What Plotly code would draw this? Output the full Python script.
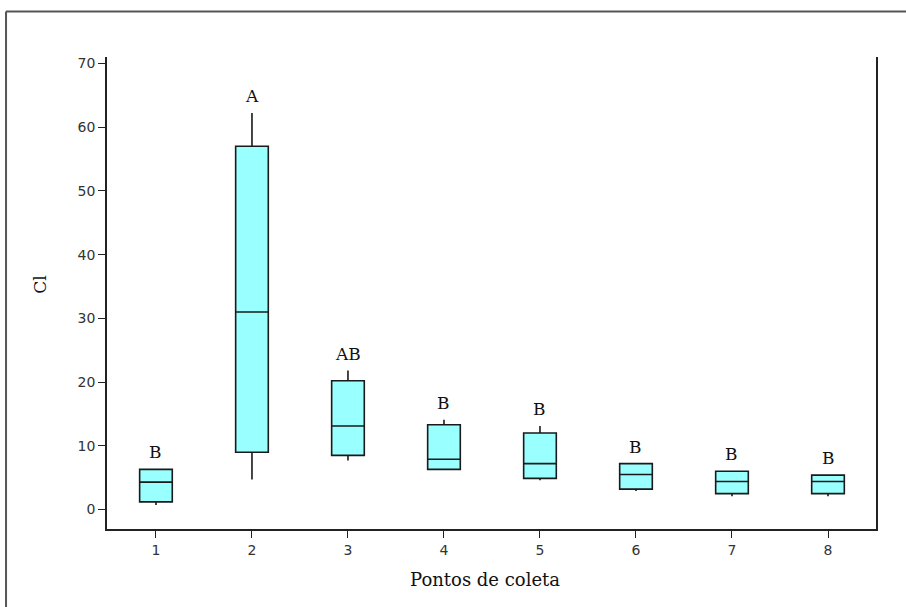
import plotly.graph_objects as go

# Sampling points and five-number summaries of Cl per point
pontos = [1, 2, 3, 4, 5, 6, 7, 8]
cl_min = [0.7, 4.7, 7.7, 6.2, 4.6, 2.9, 2.1, 2.1]
cl_q1 = [1.2, 9.0, 8.5, 6.3, 4.9, 3.2, 2.5, 2.5]
cl_median = [4.3, 31.0, 13.1, 7.9, 7.2, 5.5, 4.4, 4.4]
cl_q3 = [6.3, 57.0, 20.2, 13.3, 12.0, 7.2, 6.0, 5.4]
cl_max = [6.3, 62.2, 21.8, 14.1, 13.1, 7.2, 6.0, 5.4]
grupos = ["B", "A", "AB", "B", "B", "B", "B", "B"]

yticks = [0, 10, 20, 30, 40, 50, 60, 70]

serif = "DejaVu Serif"
sans = "DejaVu Sans"

fig = go.Figure()
fig.add_trace(go.Box(
    x=pontos,
    q1=cl_q1,
    median=cl_median,
    q3=cl_q3,
    lowerfence=cl_min,
    upperfence=cl_max,
    width=0.34,
    whiskerwidth=0,
    fillcolor="#99ffff",
    line=dict(color="#1a1a1a", width=1.6),
    boxpoints=False,
    hoverinfo="skip",
    showlegend=False,
))

# Group letters above each whisker
for p, top, g in zip(pontos, cl_max, grupos):
    fig.add_annotation(
        x=p, y=top, text=g, showarrow=False,
        xref="x", yref="y", yanchor="middle", yshift=17,
        font=dict(family=serif, size=17, color="#111111"),
    )

# Axis titles
fig.add_annotation(
    x=-0.087, y=0.5175, xref="paper", yref="paper", text="Cl",
    showarrow=False, textangle=-90, xanchor="center", yanchor="middle",
    font=dict(family=serif, size=17, color="#111111"),
)
fig.add_annotation(
    x=0.4915, y=-0.107, xref="paper", yref="paper", text="Pontos de coleta",
    showarrow=False, xanchor="center", yanchor="middle",
    font=dict(family=serif, size=18, color="#111111"),
)

# Outer frame (top and left edges)
frame = dict(color="#555555", width=2)
fig.add_shape(type="line", xref="paper", yref="paper",
              x0=-0.1313, y0=1.0963, x1=1.05, y1=1.0963, line=frame)
fig.add_shape(type="line", xref="paper", yref="paper",
              x0=-0.1313, y0=1.0963, x1=-0.1313, y1=-0.2, line=frame)

fig.update_layout(
    width=906, height=607,
    margin=dict(l=107, r=30, t=57, b=77.5),
    paper_bgcolor="white",
    plot_bgcolor="white",
    xaxis=dict(
        range=[0.49, 8.5],
        tickmode="array", tickvals=pontos, ticktext=[str(p) for p in pontos],
        showgrid=False, zeroline=False,
        showline=True, linecolor="#222222", linewidth=1.6, mirror=False,
        ticks="outside", ticklen=7, tickwidth=1.3, tickcolor="#222222",
        tickfont=dict(family=sans, size=14, color="#333333"),
    ),
    yaxis=dict(
        range=[-3.05, 71.0],
        tickmode="array", tickvals=yticks, ticktext=[str(v) for v in yticks],
        showgrid=False, zeroline=False,
        showline=True, linecolor="#222222", linewidth=1.6, mirror=True,
        ticks="outside", ticklen=7, tickwidth=1.3, tickcolor="#222222",
        tickfont=dict(family=sans, size=14, color="#333333"),
    ),
)

fig.write_html("out.html")
